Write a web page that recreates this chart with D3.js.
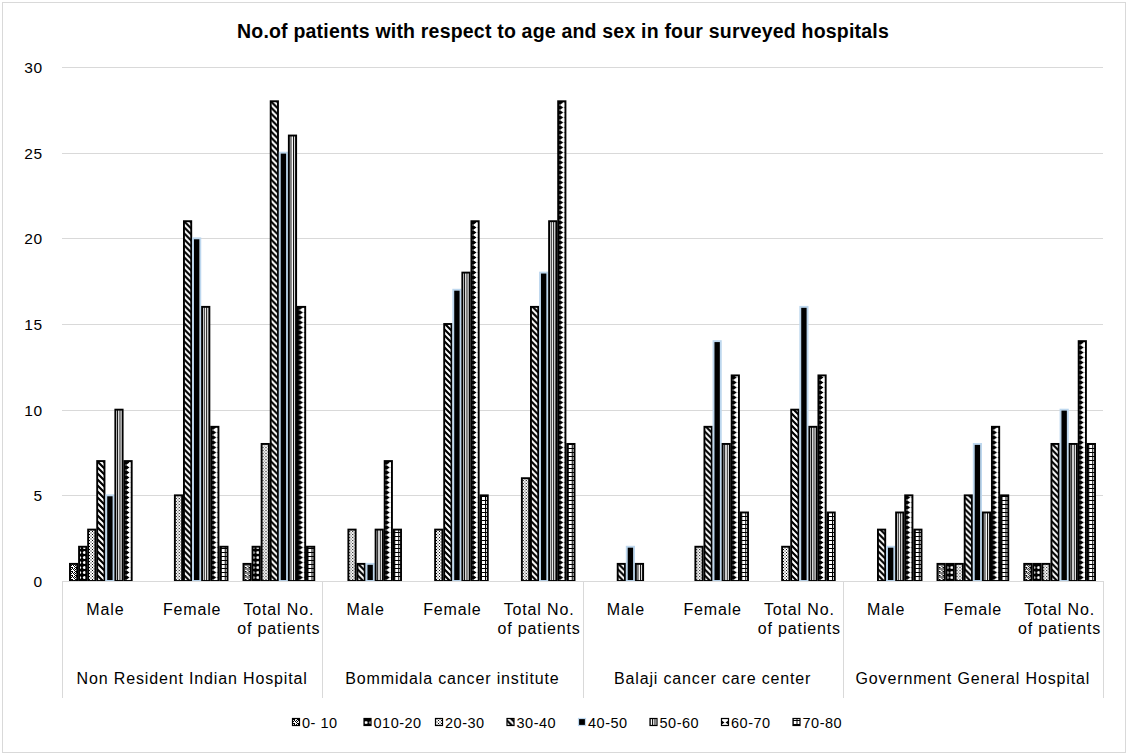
<!DOCTYPE html>
<html>
<head>
<meta charset="utf-8">
<script src="https://cdn.jsdelivr.net/npm/d3@7/dist/d3.min.js"></script>
<style>
  html, body { margin: 0; padding: 0; background: #fff; }
  svg { display: block; }
  text { font-family: Arial, "Liberation Sans", sans-serif; fill: #000; }
</style>
</head>
<body>
<svg id="chart" width="1128" height="756"></svg>
<script>
// ---- data ----
const hospitals = ["Non Resident Indian Hospital", "Bommidala cancer institute", "Balaji cancer care center", "Government General Hospital"];
const subCategories = ["Male", "Female", "Total No. of patients"];
const seriesNames = ["0- 10", "010-20", "20-30", "30-40", "40-50", "50-60", "60-70", "70-80"];
// values per series, in order: NRI (M,F,T), Bommidala (M,F,T), Balaji (M,F,T), Govt (M,F,T)
const s0_10  = [1, 0, 1,   0, 0, 0,   0, 0, 0,   0, 1, 1];
const s10_20 = [2, 0, 2,   0, 0, 0,   0, 0, 0,   0, 1, 1];
const s20_30 = [3, 5, 8,   3, 3, 6,   0, 2, 2,   0, 1, 1];
const s30_40 = [7, 21, 28, 1, 15, 16, 1, 9, 10,  3, 5, 8];
const s40_50 = [5, 20, 25, 1, 17, 18, 2, 14, 16, 2, 8, 10];
const s50_60 = [10, 16, 26, 3, 18, 21, 1, 8, 9,  4, 4, 8];
const s60_70 = [7, 9, 16,  7, 21, 28, 0, 12, 12, 5, 9, 14];
const s70_80 = [0, 2, 2,   3, 5, 8,   0, 4, 4,   3, 5, 8];
const yTicks = [0, 5, 10, 15, 20, 25, 30];
const title = "No.of patients with respect to age and sex in four surveyed hospitals";

const seriesValues = [s0_10, s10_20, s20_30, s30_40, s40_50, s50_60, s60_70, s70_80];

// ---- layout ----
const svg = d3.select("#chart");
const W = 1128, H = 756;
const plot = { left: 62, right: 1103, top: 67, bottom: 581 };

svg.append("rect").attr("x", 2.5).attr("y", 2.5).attr("width", W - 5).attr("height", H - 6)
  .attr("fill", "#fff").attr("stroke", "#d9d9d9").attr("stroke-width", 1);

// patterns
const defs = svg.append("defs");
function pat(id, w, h, draw) {
  const p = defs.append("pattern").attr("id", id).attr("patternUnits", "userSpaceOnUse")
    .attr("width", w).attr("height", h);
  p.append("rect").attr("width", w).attr("height", h).attr("fill", "#fff");
  draw(p);
}
// 0-10 : wavy dotted
pat("p0", 4, 4, p => {
  [[0,0],[1,1],[2,0],[3,1],[0,2],[2,3],[1,3]].forEach(([x,y]) =>
    p.append("rect").attr("x", x).attr("y", y).attr("width", 1).attr("height", 1).attr("fill", "#000"));
});
// 010-20 : spheres
pat("p1", 5, 5, p => {
  p.append("rect").attr("width", 5).attr("height", 5).attr("fill", "#000");
  p.append("circle").attr("cx", 2.5).attr("cy", 2.5).attr("r", 1.6).attr("fill", "#fff");
});
// 20-30 : dots
pat("p2", 3, 3, p => {
  p.append("rect").attr("x", 0).attr("y", 0).attr("width", 1).attr("height", 1).attr("fill", "#000");
  p.append("rect").attr("x", 1.5).attr("y", 1.5).attr("width", 1).attr("height", 1).attr("fill", "#000");
});
// 30-40 : wide downward diagonal
pat("p3", 6, 6, p => {
  p.append("path").attr("d", "M-1,-1 L7,7 M-4,2 L4,10 M2,-4 L10,4")
    .attr("stroke", "#000").attr("stroke-width", 2.2);
});
// 40-50 : solid
pat("p4", 4, 4, p => { p.select("rect").attr("fill", "#000"); });
// 50-60 : vertical lines
pat("p5", 2.5, 4, p => {
  p.append("rect").attr("x", 0).attr("y", 0).attr("width", 1).attr("height", 4).attr("fill", "#000");
});
// 60-70 : zigzag triangles
pat("p6", 8, 5, p => {
  p.append("path").attr("d", "M0,0 L3.5,2.5 L0,5 Z M8,0 L4.5,2.5 L8,5 Z").attr("fill", "#000");
});
// 70-80 : grid
pat("p7", 4, 4, p => {
  p.append("rect").attr("x", 0).attr("y", 0).attr("width", 4).attr("height", 1).attr("fill", "#000");
  p.append("rect").attr("x", 0).attr("y", 0).attr("width", 1).attr("height", 4).attr("fill", "#000");
});
const strokeCol = (i) => i === 4 ? "#bdd7ee" : "#000";

// scales
const nCat = hospitals.length * subCategories.length;
const catKeys = d3.range(nCat);
const x0 = d3.scaleBand().domain(catKeys).range([plot.left, plot.right]).padding(0);
const x1 = d3.scaleBand().domain(d3.range(seriesNames.length))
  .range([0, x0.bandwidth()]).paddingInner(0).paddingOuter(0.78);
const y = d3.scaleLinear().domain([0, 30]).range([plot.bottom, plot.top]);

// gridlines
svg.append("g").selectAll("line").data(yTicks).join("line")
  .attr("x1", plot.left).attr("x2", plot.right)
  .attr("y1", d => Math.round(y(d)) + 0.5).attr("y2", d => Math.round(y(d)) + 0.5)
  .attr("stroke", "#d9d9d9").attr("stroke-width", 1);

// y axis labels
const yAxis = d3.axisLeft(y).tickValues(yTicks).tickSize(0).tickPadding(0).tickFormat(d3.format("d"));
const yg = svg.append("g").attr("transform", `translate(${plot.left - 19},0)`).call(yAxis);
yg.select(".domain").remove();
yg.selectAll("text").attr("font-size", 15.5).attr("font-family", "Arial, 'Liberation Sans', sans-serif")
  .attr("fill", "#000").attr("dy", "0.36em").attr("letter-spacing", 0.8);

// bars
const gCats = svg.append("g").selectAll("g").data(catKeys).join("g")
  .attr("transform", d => `translate(${x0(d)},0)`);
gCats.selectAll("rect").data(c => seriesValues.map((vals, si) => ({ si, v: vals[c] })).filter(d => d.v > 0))
  .join("rect")
  .attr("x", d => x1(d.si) + 0.9)
  .attr("width", x1.bandwidth() - 1.8)
  .attr("y", d => y(d.v))
  .attr("height", d => y(0) - y(d.v))
  .attr("fill", d => `url(#p${d.si})`)
  .attr("stroke", d => strokeCol(d.si))
  .attr("stroke-width", 1.9);

// category axis
const axisG = svg.append("g");
axisG.append("line").attr("x1", plot.left).attr("x2", plot.right)
  .attr("y1", plot.bottom + 0.5).attr("y2", plot.bottom + 0.5)
  .attr("stroke", "#d9d9d9");
const hb = d3.range(hospitals.length + 1).map(i => i === hospitals.length ? plot.right : x0(i * subCategories.length));
axisG.selectAll("line.sep").data(hb).join("line").attr("class", "sep")
  .attr("x1", d => Math.round(d) + 0.5).attr("x2", d => Math.round(d) + 0.5)
  .attr("y1", plot.bottom).attr("y2", 698)
  .attr("stroke", "#d9d9d9");

// sub-category labels
const labelFont = 16, labelLS = 0.85;
catKeys.forEach(c => {
  const name = subCategories[c % subCategories.length];
  const cx = x0(c) + x0.bandwidth() / 2;
  const t = axisG.append("text").attr("x", cx).attr("y", 614.5).attr("text-anchor", "middle")
    .attr("font-size", labelFont).attr("letter-spacing", labelLS);
  if (name === "Total No. of patients") {
    t.append("tspan").attr("x", cx).attr("y", 614.5).text("Total No.");
    t.append("tspan").attr("x", cx).attr("y", 633.5).text("of patients");
  } else {
    t.text(name);
  }
});
// hospital labels
hospitals.forEach((h, i) => {
  const cx = (hb[i] + hb[i + 1]) / 2;
  axisG.append("text").attr("x", cx).attr("y", 684).attr("text-anchor", "middle")
    .attr("font-size", labelFont).attr("letter-spacing", labelLS).text(h);
});

// title
svg.append("text").attr("x", 563).attr("y", 37.5).attr("text-anchor", "middle")
  .attr("font-size", 19.5).attr("font-weight", "bold").attr("letter-spacing", 0.2).text(title);

// legend
const legStart = 292, legStep = 71.5;
const lg = svg.append("g").selectAll("g").data(seriesNames).join("g")
  .attr("transform", (d, i) => `translate(${legStart + i * legStep},0)`);
lg.append("rect").attr("x", 0.5).attr("y", 718.5).attr("width", 7).attr("height", 7)
  .attr("fill", (d, i) => `url(#p${i})`).attr("stroke", (d, i) => strokeCol(i)).attr("stroke-width", 1.2);
lg.append("text").attr("x", 10).attr("y", 727.5).attr("font-size", 14.5).attr("letter-spacing", 0.5).text(d => d);
</script>
</body>
</html>
